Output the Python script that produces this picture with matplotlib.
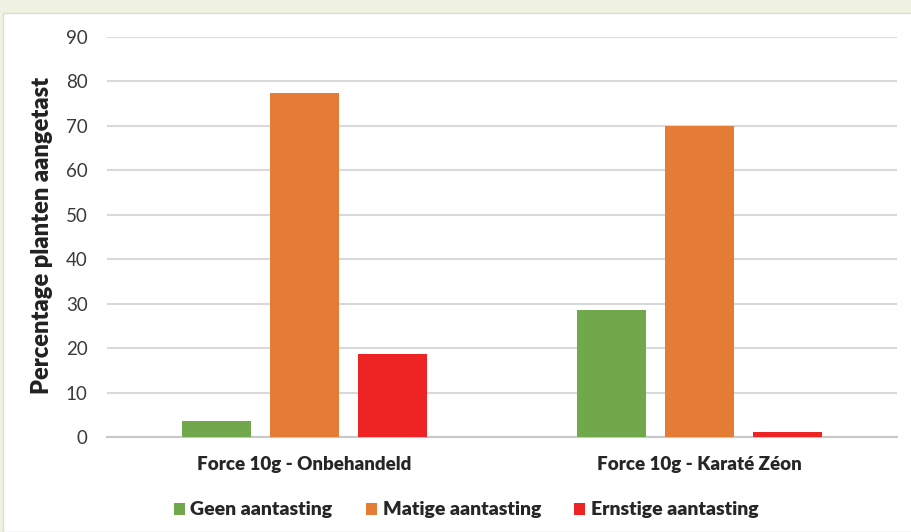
import matplotlib
matplotlib.use("Agg")
from matplotlib import pyplot as plt
from matplotlib.patches import Rectangle
import numpy as np

categories = ["Force 10g - Onbehandeld", "Force 10g - Karaté Zéon"]
series_names = ["Geen aantasting", "Matige aantasting", "Ernstige aantasting"]
geen = [3.6, 28.6]
matige = [77.4, 70.0]
ernstige = [18.7, 1.1]
colors = ["#70a84b", "#e57c35", "#ee2424"]

plt.rcParams['font.family'] = ['Lato', 'DejaVu Sans']

fig = plt.figure(figsize=(9.11, 5.32), dpi=100, facecolor="#eff1e1")
# white panel inside the pale frame
fig.patches.append(Rectangle((3 / 911, 0), 1, (532 - 13) / 532, transform=fig.transFigure,
                             facecolor="white", edgecolor="#dcdcd4", linewidth=1, zorder=-10))

ax = fig.add_axes([107 / 911, (532 - 437) / 532, 790 / 911, 400 / 532])
ax.set_facecolor("none")

x = np.arange(len(categories))
offset = 0.222
width = 0.174
for i, (vals, name) in enumerate(zip([geen, matige, ernstige], series_names)):
    ax.bar(x + (i - 1) * offset, vals, width, color=colors[i], label=name, zorder=3)

ax.set_xlim(-0.5, 1.5)
ax.set_ylim(0, 90)
ax.set_yticks(range(0, 91, 10))
ax.yaxis.grid(True, color="#d9d9d9", linewidth=1.5, zorder=0)
for s in ["top", "right", "left"]:
    ax.spines[s].set_visible(False)
ax.spines["bottom"].set_color("#c8c8c8")
ax.spines["bottom"].set_linewidth(1.5)
ax.tick_params(axis="both", length=0, labelsize=13.5, colors="#3a3a3a")
ax.tick_params(axis="y", pad=14)
ax.tick_params(axis="x", pad=14)
ax.set_xticks(x)
ax.set_xticklabels(categories)
plt.setp(ax.get_xticklabels(), fontweight="heavy", fontsize=13.5, color="#262626")

ax.set_ylabel("Percentage planten aangetast", fontsize=17, fontweight="heavy",
              color="#222222")
ax.yaxis.set_label_coords(-0.068, 0.505)

leg = ax.legend(loc="center", bbox_to_anchor=(466 / 911, 22 / 532),
                bbox_transform=fig.transFigure, ncol=3, frameon=False,
                prop={'weight': 'heavy', 'size': 14}, handlelength=0.57, handleheight=0.57,
                columnspacing=1.7, handletextpad=0.3)
for t in leg.get_texts():
    t.set_color("#262626")

fig.savefig("out.png", dpi=100, facecolor=fig.get_facecolor())
